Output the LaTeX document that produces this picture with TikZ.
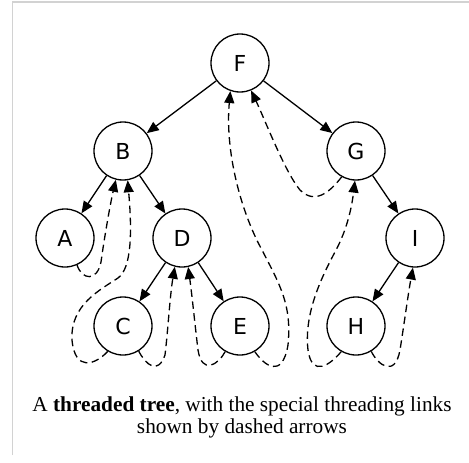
\documentclass[tikz,border=0pt]{standalone}
\usepackage{fontspec}
\setmainfont{Liberation Serif}
\newfontfamily\nodefont{DejaVu Sans}
\usetikzlibrary{arrows.meta}
\begin{document}
\begin{tikzpicture}[x=1pt,y=-1pt,
  tn/.style={circle,draw,line width=1.3pt,minimum size=58pt,inner sep=0pt,font=\nodefont\fontsize{22}{22}\selectfont},
  edge/.style={line width=1.3pt,-{Triangle[length=12pt,width=10pt]}},
  thread/.style={line width=1.3pt,dash pattern=on 7.5pt off 4.5pt,-{Triangle[length=12pt,width=10pt]}}]
\useasboundingbox (0,0) rectangle (469,463);
\draw[color={rgb,255:red,210;green,210;blue,210},line width=1.5pt] (12.5,455) -- (12.5,2) -- (469,2);
\node[tn] (F) at (240,63) {F};
\node[tn] (B) at (123,151) {B};
\node[tn] (G) at (356,151) {G};
\node[tn] (A) at (65,238) {A};
\node[tn] (D) at (182,238) {D};
\node[tn] (I) at (415,238) {I};
\node[tn] (C) at (123,326) {C};
\node[tn] (E) at (240,326) {E};
\node[tn] (H) at (356,326) {H};
\draw[edge] (F) -- (B);
\draw[edge] (F) -- (G);
\draw[edge] (B) -- (A);
\draw[edge] (B) -- (D);
\draw[edge] (D) -- (C);
\draw[edge] (D) -- (E);
\draw[edge] (G) -- (I);
\draw[edge] (I) -- (H);
% threads
\draw[thread] (A.-66) .. controls (82,280) and (97,282) .. (101,262) .. controls (104,240) and (110,205) .. (B.-104);
\draw[thread] (C.-121) .. controls (95,365) and (75,372) .. (72,340) .. controls (70,305) and (100,290) .. (118,278) .. controls (132,268) and (132,230) .. (B.-81);
\draw[thread] (C.-58) .. controls (146,365) and (158,375) .. (165,355) .. controls (168,330) and (170,295) .. (D.-104);
\draw[thread] (E.-120) .. controls (218,365) and (202,375) .. (198,350) .. controls (195,325) and (192,295) .. (D.-78);
\draw[thread] (E.-60) .. controls (264,365) and (282,380) .. (288,345) .. controls (292,305) and (280,285) .. (262,250) .. controls (240,210) and (225,150) .. (F.-109);
\draw[thread] (G.-119) .. controls (330,192) and (315,205) .. (300,190) .. controls (285,172) and (265,120) .. (F.-68);
\draw[thread] (H.-120) .. controls (330,365) and (312,378) .. (308,350) .. controls (304,315) and (320,280) .. (335,252) .. controls (348,228) and (352,205) .. (G.-92);
\draw[thread] (H.-59) .. controls (378,365) and (395,378) .. (400,350) .. controls (404,325) and (408,295) .. (I.-94);
\node[font=\fontsize{21.3}{22}\selectfont,align=center] (cap) at (242,417) {A \textbf{threaded tree}, with the special threading links\\shown by dashed arrows};
\end{tikzpicture}
\end{document}
